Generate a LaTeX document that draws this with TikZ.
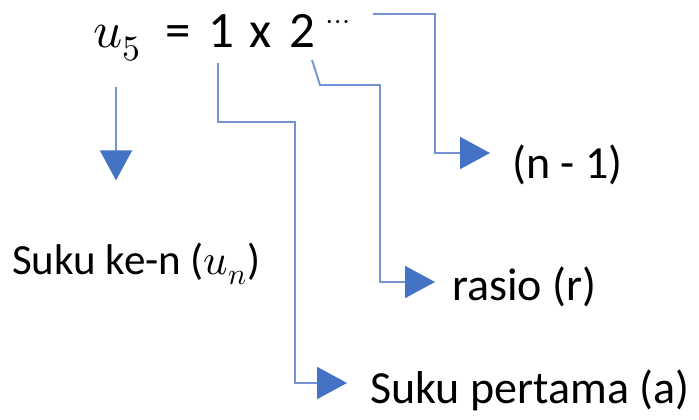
\documentclass[tikz,border=0pt]{standalone}
\usepackage{fontspec}
\usepackage{unicode-math}
\setmainfont{Carlito}
\usetikzlibrary{arrows.meta}
\definecolor{linkblue}{HTML}{7393D3}
\definecolor{tipblue}{HTML}{4472C4}
\begin{document}
\begin{tikzpicture}[x=1pt, y=-1pt,
    eqtext/.style={font=\fontsize{51}{56}\selectfont, anchor=base, inner sep=0pt},
    lbltext/.style={font=\fontsize{#1}{50}\selectfont, anchor=base west, inner sep=0pt},
    link/.style={draw=linkblue, line width=1.9pt, -{Triangle[length=30pt, width=32pt, color=tipblue]}}]
      \useasboundingbox (0,0) rectangle (699,420);
      % equation
      \node[eqtext] (eqU) at (117,48) {$u_5$};
      \node[eqtext] (eqEq) at (178,48) {=};
      \node[eqtext] (eqOne) at (221,48) {1};
      \node[eqtext] (eqTimes) at (261,48) {x};
      \node[eqtext] (eqTwo) at (302,48) {2};
      \node[eqtext, font=\fontsize{30}{32}\selectfont] (eqDots) at (338,30) {$\cdots$};
      % labels
      \node[lbltext=43] (lblTerm) at (12,274) {Suku ke-n ($u_n$)};
      \node[lbltext=46] (lblExp) at (512,178) {(n - 1)};
      \node[lbltext=46] (lblRatio) at (452,300) {rasio (r)};
      \node[lbltext=46] (lblFirst) at (370,403) {Suku pertama (a)};
      % connectors
      \coordinate (termStart) at (116,87);
      \coordinate (oneStart) at (218,63);
      \coordinate (twoStart) at (312,60);
      \coordinate (expStart) at (373,14);
      \draw[link, shorten >=62pt] (termStart) -- (termStart |- lblTerm.north);
      \draw[link] (oneStart) -- (218,122) -- (295,122) -- (295,383) -- ([xshift=-23pt, yshift=20pt]lblFirst.base west);
      \draw[link] (twoStart) -- (320,85) -- (380,85) -- (380,282) -- ([xshift=-17pt, yshift=18pt]lblRatio.base west);
      \draw[link] (expStart) -- (435,14) -- (435,153) -- ([xshift=-22pt, yshift=25pt]lblExp.base west);
    \end{tikzpicture}
\end{document}
